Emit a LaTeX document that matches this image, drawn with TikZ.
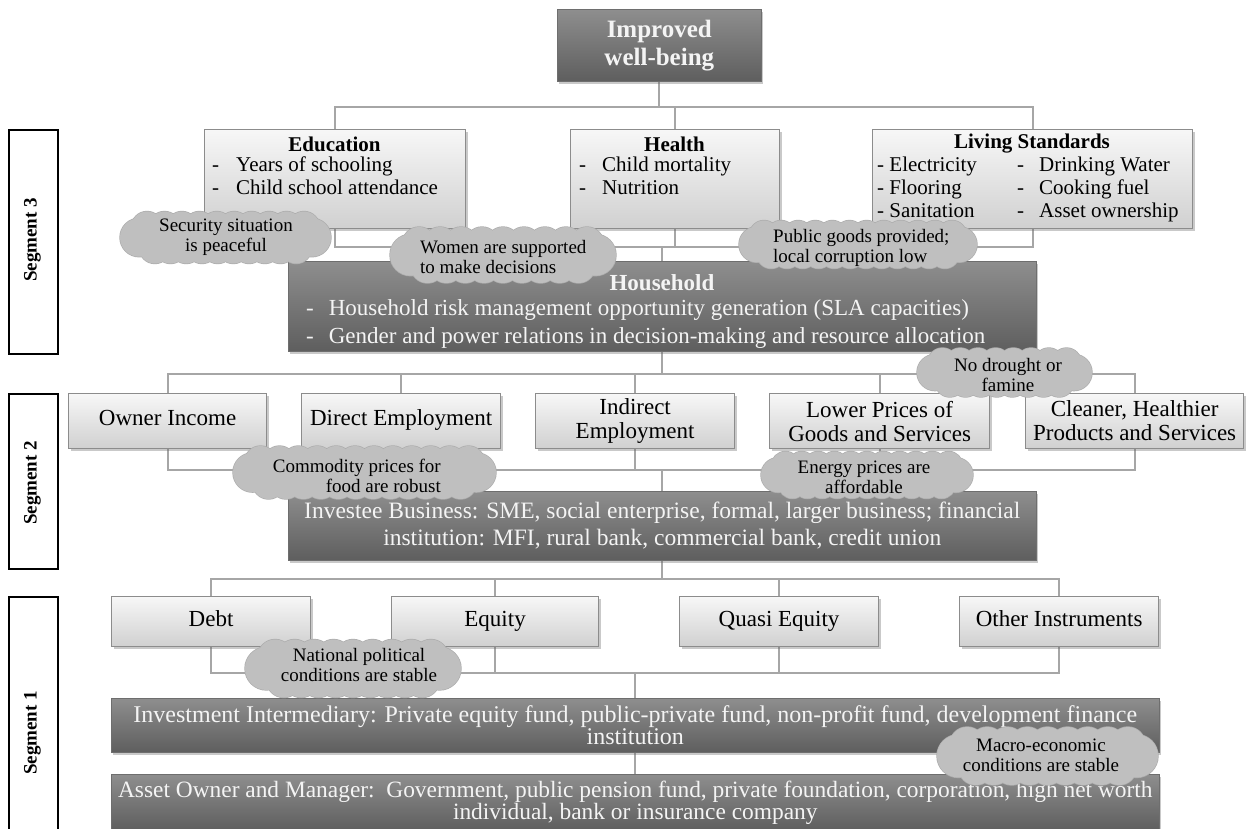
\documentclass[tikz,border=0pt]{standalone}
\usepackage{fontspec}
\setmainfont{Liberation Serif}
\usetikzlibrary{shadows,backgrounds}
\definecolor{linegray}{HTML}{A6A6A6}
\definecolor{boxedge}{HTML}{8C8C8C}
\definecolor{ltop}{HTML}{F7F7F7}
\definecolor{lbot}{HTML}{D0D0D0}
\definecolor{dtop}{HTML}{8E8E8E}
\definecolor{dbot}{HTML}{5E5E5E}
\definecolor{dedge}{HTML}{6E6E6E}
\definecolor{cloudfill}{HTML}{BFBFBF}
\definecolor{cloudedge}{HTML}{ADADAD}
\definecolor{dtext}{HTML}{F4F4F4}
\newcommand\fsz[2]{\fontsize{#1}{#2}\selectfont}
% cloud outline made of overlapping puffs
\newcommand\cloudparts[1]{%
  \path[#1] (-\ba,0) circle (\bR) (\ba,0) circle (\bR);
  \foreach \i in {0,...,\bn}{%
    \pgfmathsetmacro\bx{-\ba+0.5*\br+\i*(2*\ba-\br)/\bn}%
    \pgfmathsetmacro\bxx{-\ba+\br+\i*(2*\ba-2*\br)/\bn}%
    \path[#1] (\bx,-\by) circle (\br) (\bxx,\by) circle (\br);
  }%
  \path[#1] (-\ba,-\by) rectangle (\ba,\by);
}
\newcommand\cloudblob[4]{%
\begin{scope}[shift={(#1,#2)}]
  \pgfmathsetmacro\bR{0.37*#4}%
  \pgfmathsetmacro\ba{#3/2-\bR}%
  \pgfmathsetmacro\br{0.30*#4}%
  \pgfmathsetmacro\by{#4/2-\br}%
  \pgfmathtruncatemacro\bn{max(2,round((2*\ba)/(1.3*\br)))}%
  \cloudparts{draw=cloudedge,line width=1.4pt}
  \cloudparts{fill=cloudfill}
\end{scope}}
\begin{document}
\begin{tikzpicture}[x=1pt,y=-1pt,
 conn/.style={draw=linegray,line width=2.2pt},
 shad/.style={drop shadow={shadow xshift=2pt,shadow yshift=-2.5pt,opacity=.35,fill=black!60}},
 lbox/.style={rectangle,draw=boxedge,line width=1.2pt,top color=ltop,bottom color=lbot,shad,inner sep=0pt,anchor=north west},
 dbox/.style={rectangle,draw=dedge,line width=.6pt,top color=dtop,bottom color=dbot,shad,inner sep=0pt,anchor=north west,text=dtext},
 segbox/.style={rectangle,draw=black,line width=1.6pt,fill=white,inner sep=0pt,anchor=north west,minimum width=49pt},
 seglabel/.style={rotate=90,font=\fsz{19}{22}\bfseries,inner sep=0pt},
 cloudtext/.style={font=\fsz{19}{20},inner sep=0pt},
 rowtext/.style={font=\fsz{23}{24},align=center},
 bartext/.style={font=\fsz{24}{22},align=center},
 ttl/.style={font=\fsz{21}{23}\bfseries,inner sep=0pt},
 lst/.style={font=\fsz{21}{23},inner sep=0pt,anchor=west},
]
\useasboundingbox (0,0) rectangle (1249,828);
\begin{scope}[on background layer]
\fill[white] (0,0) rectangle (1249,828);
\end{scope}
\clip (0,0) rectangle (1249,828);

% segment boxes
\node[segbox,minimum height=224pt] (s3) at (8,129) {};
\node[seglabel] (s3t) at (32.5,240) {Segment 3};
\node[segbox,minimum height=175pt] (s2) at (8,393) {};
\node[seglabel] (s2t) at (32.5,483) {Segment 2};
\node[segbox,minimum height=250pt] (s1) at (8,596) {};
\node[seglabel] (s1t) at (32.5,733) {Segment 1};

% top
\node[dbox,minimum width=204pt,minimum height=72pt,font=\fsz{25}{28}\bfseries,align=center] (top) at (557,9) {Improved\\well-being};

% segment 3 boxes
\node[lbox,minimum width=261pt,minimum height=99pt] (edu) at (204,129) {};
\node[ttl] (edut) at (334.5,144) {Education};
\node[lst] (edul) at (212,178.5) {\begin{tabular}{@{}l@{\hspace{17pt}}l@{}}-&Years of schooling\\-&Child school attendance\end{tabular}};

\node[lbox,minimum width=209pt,minimum height=99pt] (hea) at (570,129) {};
\node[ttl] (heat) at (674.5,144) {Health};
\node[lst] (heal) at (579,178.5) {\begin{tabular}{@{}l@{\hspace{16pt}}l@{}}-&Child mortality\\-&Nutrition\end{tabular}};

\node[lbox,minimum width=320pt,minimum height=99pt] (liv) at (872,129) {};
\node[ttl] (livt) at (1032,144) {Living Standards};
\node[lst] (livl) at (877,190) {\begin{tabular}{@{}p{140pt}@{}l@{\hspace{15pt}}l@{}}- Electricity&-&Drinking Water\\- Flooring&-&Cooking fuel\\- Sanitation&-&Asset ownership\end{tabular}};

% household
\node[dbox,minimum width=748pt,minimum height=90pt] (hh) at (288,261) {};
\node[font=\fsz{23}{28}\bfseries,text=dtext,inner sep=0pt] (hht) at (662,283) {Household};
\node[font=\fsz{23}{28},text=dtext,inner sep=0pt,anchor=west] (hhl) at (306,324) {\begin{tabular}{@{}l@{\hspace{15pt}}l@{}}-&Household risk management opportunity generation (SLA capacities)\\-&Gender and power relations in decision-making and resource allocation\end{tabular}};

% segment 2 boxes
\node[lbox,rowtext,minimum width=198pt,minimum height=55pt] (own) at (68,393) {\strut Owner Income};
\node[lbox,rowtext,minimum width=199pt,minimum height=55pt] (dir) at (301,393) {\strut Direct Employment};
\node[lbox,rowtext,minimum width=199pt,minimum height=55pt] (ind) at (535,393) {Indirect\\Employment};
\node[lbox,rowtext,minimum width=220pt,minimum height=55pt] (low) at (769,393) {Lower Prices of\\Goods and Services};
\node[lbox,rowtext,minimum width=218pt,minimum height=55pt] (cle) at (1025,393) {Cleaner, Healthier\\Products and Services};

% investee
\node[dbox,font=\fsz{23.5}{27},align=center,minimum width=748pt,minimum height=69pt] (inv) at (288,491) {Investee Business: SME, social enterprise, formal, larger business; financial\\institution: MFI, rural bank, commercial bank, credit union};

% segment 1 boxes
\node[lbox,rowtext,minimum width=199pt,minimum height=50pt] (debt) at (111,596) {\strut Debt};
\node[lbox,rowtext,minimum width=207pt,minimum height=50pt] (equ) at (391,596) {\strut Equity};
\node[lbox,rowtext,minimum width=199pt,minimum height=50pt] (qua) at (679,596) {\strut Quasi Equity};
\node[lbox,rowtext,minimum width=199pt,minimum height=50pt] (oth) at (959,596) {\strut Other Instruments};

% bars
\node[dbox,bartext,minimum width=1048pt,minimum height=54pt] (ii) at (111,698) {Investment Intermediary: Private equity fund, public-private fund, non-profit fund, development finance\\institution};
\node[dbox,bartext,font=\fsz{23.4}{22},minimum width=1048pt,minimum height=56pt] (as) at (111,774) {Asset Owner and Manager:\, Government, public pension fund, private foundation, corporation, high net worth\\individual, bank or insurance company};

% connectors
\begin{scope}[on background layer]
\foreach \n in {edu,hea,liv} \draw[conn] (top.south) -- ++(0,25) -| (\n.north);
\foreach \n in {edu,hea,liv} \draw[conn] (\n.south) -- ++(0,18) -| (hh.north);
\foreach \n in {own,dir,ind,low,cle} \draw[conn] (hh.south) -- ++(0,22) -| (\n.north);
\foreach \n in {own,dir,ind,low,cle} \draw[conn] (\n.south) -- ++(0,21) -| (inv.north);
\foreach \n in {debt,equ,qua,oth} \draw[conn] (inv.south) -- ++(0,18) -| (\n.north);
\foreach \n in {debt,equ,qua,oth} \draw[conn] (\n.south) -- ++(0,26) -| (ii.north);
\draw[conn] (ii.south) -- (as.north);
\end{scope}

% clouds
\cloudblob{225.5}{237.5}{211}{52}
\node[cloudtext,align=center] (c1t) at (226,237) {Security situation\\is peaceful};
\cloudblob{503}{255}{226}{56}
\node[cloudtext,align=left,anchor=west] (c2t) at (420,257) {Women are supported\\to make decisions};
\cloudblob{858}{244.5}{238}{48}
\node[cloudtext,align=left,anchor=west] (c3t) at (773,248) {Public goods provided;\\local corruption low};
\cloudblob{1004.5}{372.5}{175}{49}
\node[cloudtext,align=center] (c4t) at (1008,375) {No drought or\\famine};
\cloudblob{364.5}{472.5}{263}{53}
\node[cloudtext,align=right,anchor=east] (c5t) at (441,476) {Commodity prices for\\food are robust};
\cloudblob{867}{475}{212}{47}
\node[cloudtext,align=center] (c6t) at (864,477) {Energy prices are\\affordable};
\cloudblob{353}{668.5}{216}{58}
\node[cloudtext,align=center] (c7t) at (359,665) {National political\\conditions are stable};
\cloudblob{1047.5}{756}{221}{58}
\node[cloudtext,align=center] (c8t) at (1041,755) {Macro-economic\\conditions are stable};
\end{tikzpicture}
\end{document}
